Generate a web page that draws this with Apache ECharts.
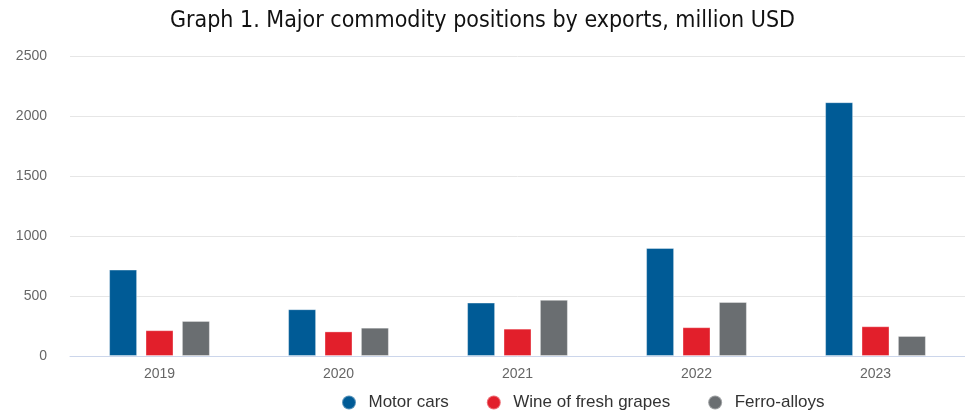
<!DOCTYPE html>
<html>
<head>
<meta charset="utf-8">
<script src="https://cdn.jsdelivr.net/npm/echarts@6/dist/echarts.min.js"></script>
<style>
  html, body { margin: 0; padding: 0; background: #fff; }
  #chart { width: 965px; height: 418px; }
</style>
</head>
<body>
<div id="chart"></div>
<script>
// Export values by year, million USD
const years = ['2019', '2020', '2021', '2022', '2023'];
const motorCars = [720, 390, 445, 900, 2115];
const wine = [215, 205, 228, 240, 248];
const ferroAlloys = [292, 236, 468, 450, 167];
const seriesNames = ['Motor cars', 'Wine of fresh grapes', 'Ferro-alloys'];
const seriesColors = ['#005b96', '#e21f2b', '#6a6e71'];

const chart = echarts.init(document.getElementById('chart'));

const makeBar = (name, data, color) => ({
  name: name,
  type: 'bar',
  data: data,
  barWidth: 28,
  barGap: '30%',
  itemStyle: { color: color, borderColor: 'rgba(255,255,255,0.35)', borderWidth: 1 }
});

chart.setOption({
  animation: false,
  title: {
    text: 'Graph 1. Major commodity positions by exports, million USD',
    left: 'center',
    top: 5,
    textStyle: { fontFamily: 'DejaVu Sans Condensed', fontSize: 23, fontWeight: 'normal', color: '#111' }
  },
  legend: {
    bottom: 2,
    left: 336,
    icon: 'circle',
    itemWidth: 17,
    itemHeight: 14,
    itemGap: 37,
    textStyle: { fontFamily: 'Liberation Sans', fontSize: 17, color: '#333', padding: [0, 0, 0, 6] },
    data: seriesNames
  },
  grid: { left: 70, top: 56, width: 905, height: 300 },
  xAxis: {
    type: 'category',
    data: years,
    axisLine: { lineStyle: { color: '#ccd6eb', width: 1 } },
    axisTick: { show: false },
    axisLabel: { fontFamily: 'Liberation Sans', fontSize: 14, color: '#666', margin: 11 }
  },
  yAxis: {
    type: 'value',
    min: 0,
    max: 2500,
    interval: 500,
    axisLine: { show: false },
    axisTick: { show: false },
    splitLine: { lineStyle: { color: '#e6e6e6', width: 1 } },
    axisLabel: {
      fontFamily: 'Liberation Sans', fontSize: 14, color: '#666', margin: 23,
      formatter: (v) => String(v)
    }
  },
  series: [
    makeBar(seriesNames[0], motorCars, seriesColors[0]),
    makeBar(seriesNames[1], wine, seriesColors[1]),
    makeBar(seriesNames[2], ferroAlloys, seriesColors[2])
  ]
});
</script>
</body>
</html>
